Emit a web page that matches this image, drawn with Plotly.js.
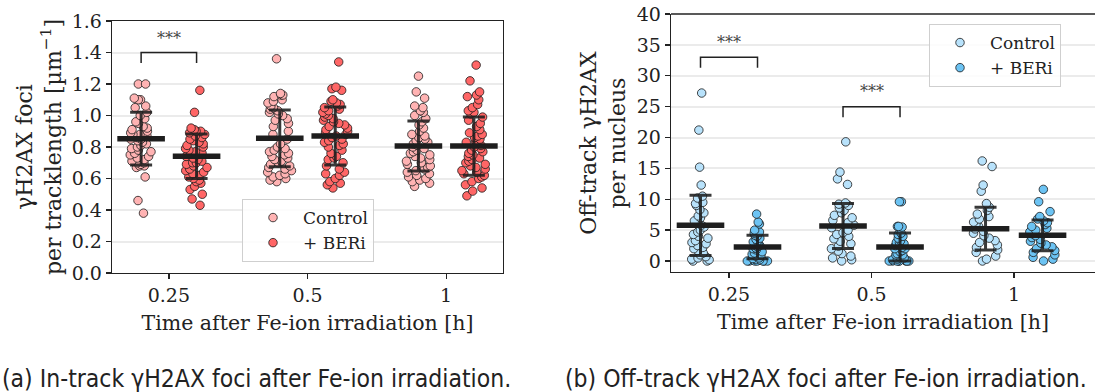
<!DOCTYPE html>
<html><head><meta charset="utf-8">
<script src="https://cdn.plot.ly/plotly-3.0.1.min.js"></script>
<style>html,body{margin:0;padding:0;background:#fff;overflow:hidden}</style>
</head><body><div id="chart" style="width:1095px;height:392px"></div>
<script>
// ---------- categories / labels ----------
const timeLabels = ['0.25', '0.5', '1'];
const groupNames = ['Control', '+ BERi'];

// ---------- (a) in-track foci per tracklength [1/um] ----------
const inCtrl025 = [1.20,1.20,1.11,1.10,1.10,1.06,1.05,1.02,1.00,0.98,0.96,0.95,0.93,0.92,0.91,0.90,0.89,0.88,0.88,0.87,0.86,0.85,0.85,0.84,0.83,0.82,0.81,0.80,0.79,0.78,0.77,0.76,0.75,0.74,0.73,0.72,0.71,0.70,0.70,0.69,0.68,0.68,0.67,0.61,0.46,0.38];
const inBeri025 = [1.16,1.02,0.92,0.91,0.90,0.90,0.89,0.88,0.87,0.86,0.85,0.84,0.83,0.82,0.81,0.80,0.79,0.78,0.77,0.76,0.76,0.75,0.74,0.73,0.72,0.71,0.70,0.70,0.69,0.68,0.67,0.66,0.65,0.64,0.63,0.62,0.61,0.60,0.59,0.58,0.57,0.55,0.53,0.50,0.47,0.43];
const inCtrl05 = [1.36,1.14,1.13,1.13,1.12,1.10,1.09,1.08,1.06,1.05,1.04,1.03,1.02,1.01,1.00,0.98,0.97,0.95,0.93,0.90,0.88,0.85,0.82,0.80,0.79,0.78,0.77,0.76,0.75,0.74,0.73,0.72,0.71,0.70,0.69,0.68,0.67,0.66,0.65,0.64,0.63,0.62,0.61,0.60,0.59,0.58];
const inBeri05 = [1.34,1.18,1.17,1.16,1.10,1.09,1.08,1.07,1.06,1.05,1.04,1.03,1.02,1.01,1.00,0.99,0.98,0.97,0.96,0.95,0.94,0.93,0.92,0.91,0.90,0.89,0.88,0.87,0.86,0.85,0.84,0.83,0.82,0.81,0.80,0.78,0.76,0.74,0.73,0.72,0.70,0.68,0.66,0.64,0.63,0.62,0.60,0.58,0.57,0.56,0.54];
const inCtrl1 = [1.25,1.15,1.11,1.06,1.05,1.03,1.02,1.00,0.98,0.96,0.94,0.92,0.90,0.88,0.87,0.86,0.85,0.84,0.83,0.82,0.81,0.80,0.79,0.78,0.77,0.76,0.75,0.74,0.73,0.72,0.71,0.70,0.69,0.68,0.67,0.66,0.65,0.64,0.63,0.62,0.61,0.60,0.59,0.58,0.57,0.55];
const inBeri1 = [1.32,1.22,1.15,1.13,1.12,1.10,1.07,1.05,1.03,1.02,1.01,0.99,0.97,0.95,0.93,0.91,0.89,0.88,0.87,0.86,0.85,0.84,0.83,0.81,0.80,0.79,0.78,0.77,0.76,0.75,0.74,0.73,0.72,0.71,0.70,0.69,0.68,0.67,0.66,0.65,0.64,0.63,0.62,0.61,0.60,0.58,0.56,0.54,0.52,0.49];
const inCtrlMean = [0.853, 0.855, 0.806];
const inCtrlSD   = [0.167, 0.180, 0.159];
const inBeriMean = [0.741, 0.870, 0.806];
const inBeriSD   = [0.141, 0.184, 0.185];

// ---------- (b) off-track foci per nucleus ----------
const offCtrl025 = [27.2,21.2,15.2,12.3,10.5,10.2,9.5,9.3,9.0,8.3,7.8,7.3,7.0,6.5,6.2,5.8,5.5,5.0,4.7,4.3,4.0,3.7,3.3,3.0,2.8,2.5,2.2,2.0,1.7,1.3,1.0,0.7,0.5,0.3,0.2,0.0,0.0];
const offBeri025 = [7.6,6.3,6.0,5.0,4.7,4.5,4.2,4.0,3.7,3.5,3.2,3.1,3.0,2.8,2.5,2.3,2.1,2.0,1.8,1.5,1.3,1.1,1.0,0.8,0.5,0.4,0.3,0.2,0.0,0.0,0.0,0.0,0.0,0.0,0.0];
const offCtrl05 = [19.3,14.4,13.3,12.4,9.4,9.2,9.0,8.6,8.2,7.8,7.4,7.0,6.6,6.2,5.8,5.4,5.0,4.6,4.3,4.0,3.6,3.2,2.8,2.4,2.0,1.6,1.2,0.8,0.5,0.2,0.0];
const offBeri05 = [9.6,9.6,5.6,5.6,5.5,4.5,4.3,4.0,3.7,3.3,3.0,3.0,2.8,2.5,2.2,2.0,2.0,1.7,1.5,1.2,1.0,1.0,0.8,0.5,0.3,0.2,0.0,0.0,0.0,0.0,0.0,0.0,0.0,0.0];
const offCtrl1 = [16.2,15.3,12.3,11.3,9.3,8.7,8.2,7.6,7.2,6.8,6.3,6.0,5.6,5.2,4.8,4.5,4.1,3.7,3.3,3.0,2.6,2.2,1.8,1.4,0.8,0.3,0.0];
const offBeri1 = [11.6,9.6,8.0,7.2,6.8,6.5,6.2,5.9,5.6,5.3,5.0,4.7,4.4,4.1,3.8,3.5,3.2,2.9,2.6,2.3,2.0,1.7,1.4,1.0,0.6,0.3,0.0];
const offCtrlMean = [5.78, 5.67, 5.24];
const offCtrlSD   = [4.88, 3.64, 3.46];
const offBeriMean = [2.27, 2.27, 4.16];
const offBeriSD   = [1.90, 2.25, 2.48];

// significance brackets: category index, bracket top, label
const sigA = [{cat: 0, top: 1.40, drop: 0.067, label: '***', ty: 1.49}];
const sigB = [{cat: 0, top: 33.0, drop: 1.7, label: '***', ty: 35.4},
              {cat: 1, top: 25.0, drop: 1.7, label: '***', ty: 27.5}];

// ---------- styles ----------
const serif = 'DejaVu Serif, Liberation Serif, serif';
const capFont = 'DejaVu Sans Condensed, Liberation Sans Narrow, Roboto, sans-serif';
const colA = ['#ffb3b3', '#ff6666'];
const colB = ['#b8e2fb', '#6cc3f3'];
const OFF = 0.2;

function strip(groups, off, color, xa, ya) {
  const x = [], y = [];
  groups.forEach((vals, i) => vals.forEach(v => { x.push(i + off); y.push(v); }));
  return {type: 'box', x: x, y: y, xaxis: xa, yaxis: ya, boxpoints: 'all', jitter: 0.9,
    pointpos: 0, width: 0.2, fillcolor: 'rgba(0,0,0,0)', line: {width: 0, color: 'rgba(0,0,0,0)'},
    marker: {color: color, size: 8.5, opacity: 1, line: {color: '#1a1a1a', width: 0.8}},
    showlegend: false, hoverinfo: 'skip'};
}
function meanBars(means, sds, off, xa, ya) {
  return {type: 'scatter', mode: 'markers', x: means.map((m, i) => i + off), y: means,
    xaxis: xa, yaxis: ya,
    marker: {symbol: 'line-ew', size: 34, color: '#1e1e1e', line: {width: 5.5, color: '#1e1e1e'}},
    error_y: {type: 'data', array: sds, visible: true, color: 'rgba(30,30,30,0.88)', thickness: 3, width: 11},
    showlegend: false, hoverinfo: 'skip'};
}
function legendItem(name, color, xa, ya, leg) {
  return {type: 'scatter', mode: 'markers', x: [null], y: [null], name: name, xaxis: xa, yaxis: ya,
    legend: leg, marker: {color: color, size: 8.5, line: {color: '#1a1a1a', width: 0.8}}};
}

const data = [
  strip([inCtrl025, inCtrl05, inCtrl1], -OFF, colA[0], 'x', 'y'),
  strip([inBeri025, inBeri05, inBeri1], OFF, colA[1], 'x', 'y'),
  strip([offCtrl025, offCtrl05, offCtrl1], -OFF, colB[0], 'x2', 'y2'),
  strip([offBeri025, offBeri05, offBeri1], OFF, colB[1], 'x2', 'y2'),
  meanBars(inCtrlMean, inCtrlSD, -OFF, 'x', 'y'),
  meanBars(inBeriMean, inBeriSD, OFF, 'x', 'y'),
  meanBars(offCtrlMean, offCtrlSD, -OFF, 'x2', 'y2'),
  meanBars(offBeriMean, offBeriSD, OFF, 'x2', 'y2'),
  legendItem(groupNames[0], colA[0], 'x', 'y', 'legend'),
  legendItem(groupNames[1], colA[1], 'x', 'y', 'legend'),
  legendItem(groupNames[0], colB[0], 'x2', 'y2', 'legend2'),
  legendItem(groupNames[1], colB[1], 'x2', 'y2', 'legend2')
];

const shapes = [], annotations = [];
function addSig(list, xr, yr) {
  list.forEach(s => {
    const x0 = s.cat - OFF, x1 = s.cat + OFF, yb = s.top - s.drop;
    shapes.push({type: 'path', xref: xr, yref: yr,
      path: `M ${x0},${yb} L ${x0},${s.top} L ${x1},${s.top} L ${x1},${yb}`,
      line: {color: '#222', width: 1.5}});
    annotations.push({xref: xr, yref: yr, x: s.cat, y: s.ty, text: s.label, showarrow: false,
      font: {family: serif, size: 16, color: '#444'}});
  });
}
addSig(sigA, 'x', 'y');
addSig(sigB, 'x2', 'y2');
shapes.push({type: 'line', xref: 'x2 domain', yref: 'y2 domain', x0: 0, x1: 1, y0: 1, y1: 1,
  line: {color: '#222', width: 1.3}});

annotations.push({xref: 'paper', yref: 'paper', x: 0, y: 1 - 378 / 392, xanchor: 'left', yanchor: 'middle',
  text: '(a) In-track γH2AX foci after Fe-ion irradiation.', showarrow: false,
  font: {family: capFont, size: 24.5, color: '#222'}});
annotations.push({xref: 'paper', yref: 'paper', x: 563 / 1095, y: 1 - 378 / 392, xanchor: 'left', yanchor: 'middle',
  text: '(b) Off-track γH2AX foci after Fe-ion irradiation.', showarrow: false,
  font: {family: capFont, size: 24.5, color: '#222'}});

const axisCommon = {showline: true, linecolor: '#222', linewidth: 1.3, ticks: 'outside', ticklen: 5,
  tickwidth: 1.3, tickcolor: '#222', tickfont: {family: serif, size: 19, color: '#222'}, zeroline: false};
const titleFont = {family: serif, size: 20.5, color: '#222'};
const yTitleFont = {family: serif, size: 22, color: '#222'};

const layout = {
  width: 1095, height: 392, margin: {l: 0, r: 0, t: 0, b: 0},
  paper_bgcolor: '#fff', plot_bgcolor: '#fff', showlegend: true,
  font: {family: serif, color: '#222'},
  xaxis: Object.assign({}, axisCommon, {domain: [112 / 1095, 503 / 1095], range: [-0.41, 2.41],
    tickvals: [0, 1, 2], ticktext: timeLabels, showgrid: false, mirror: true,
    title: {text: 'Time after Fe-ion irradiation [h]', font: titleFont, standoff: 10}}),
  yaxis: Object.assign({}, axisCommon, {domain: [1 - 273 / 392, 1 - 21 / 392], range: [0, 1.6],
    dtick: 0.2, tickformat: '.1f', showgrid: true, gridcolor: '#ebebeb', gridwidth: 2, mirror: true,
    title: {text: 'γH2AX foci<br>per tracklength [µm<sup>−1</sup>]', font: yTitleFont, standoff: 4}}),
  xaxis2: Object.assign({}, axisCommon, {anchor: 'y2', domain: [671 / 1095, 1], range: [-0.407, 2.568],
    tickvals: [0, 1, 2], ticktext: timeLabels, showgrid: false,
    title: {text: 'Time after Fe-ion irradiation [h]', font: titleFont, standoff: 10}}),
  yaxis2: Object.assign({}, axisCommon, {anchor: 'x2', domain: [1 - 272 / 392, 1 - 14 / 392], range: [-1.78, 40],
    dtick: 5, showgrid: true, gridcolor: '#ebebeb', gridwidth: 2,
    title: {text: 'Off-track γH2AX<br>per nucleus', font: yTitleFont, standoff: 5}}),
  legend: {x: 242 / 1095, y: 1 - 199 / 392, xanchor: 'left', yanchor: 'top', bgcolor: 'rgba(255,255,255,0.85)',
    bordercolor: '#cfcfcf', borderwidth: 1, font: {family: serif, size: 17, color: '#222'}, itemwidth: 50},
  legend2: {x: 929 / 1095, y: 1 - 24 / 392, xanchor: 'left', yanchor: 'top', bgcolor: 'rgba(255,255,255,0.85)',
    bordercolor: '#cfcfcf', borderwidth: 1, font: {family: serif, size: 17, color: '#222'}, itemwidth: 50},
  shapes: shapes, annotations: annotations
};

Plotly.newPlot('chart', data, layout, {displayModeBar: false, staticPlot: true});
</script></body></html>
